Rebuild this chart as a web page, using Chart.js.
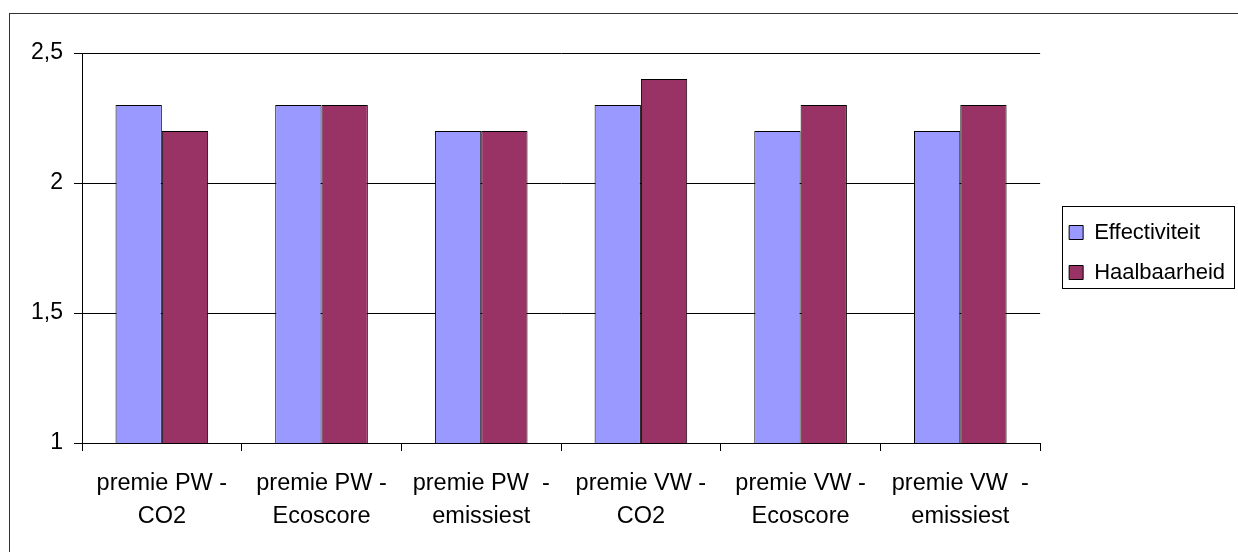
<!DOCTYPE html>
<html>
<head>
<meta charset="utf-8">
<script src="https://cdn.jsdelivr.net/npm/chart.js@4/dist/chart.umd.min.js"></script>
<style>
  body { margin: 0; background: #fff; }
  canvas { display: block; }
</style>
</head>
<body>
<canvas id="chart" width="1238" height="552"></canvas>
<script>
const categories = [
    ["premie PW -", "CO2"],
    ["premie PW -", "Ecoscore"],
    ["premie PW  -", "emissiest"],
    ["premie VW -", "CO2"],
    ["premie VW -", "Ecoscore"],
    ["premie VW  -", "emissiest"]
];
const effectiviteit = [2.3, 2.3, 2.2, 2.3, 2.2, 2.2];
const haalbaarheid = [2.2, 2.3, 2.2, 2.4, 2.3, 2.3];

const FONT = "'Liberation Sans', Arial, sans-serif";

// outer frame + box around the legend
const framePlugin = {
    id: 'frame',
    afterLayout(chart) {
        chart.legend.left += 11;
        chart.legend.top -= 50;
        chart.legend.bottom -= 50;
    },
    beforeDraw(chart) {
        const ctx = chart.ctx;
        ctx.save();
        ctx.strokeStyle = '#333';
        ctx.lineWidth = 1;
        ctx.strokeRect(9.5, 13.5, 1400, 700);
        ctx.restore();
    },
    afterDraw(chart) {
        const hb = chart.legend.legendHitBoxes;
        if (!hb || !hb.length) return;
        const last = hb[hb.length - 1];
        const left = hb[0].left - 7;
        const right = Math.max(...hb.map(h => h.left + h.width)) + 9;
        const top = hb[0].top - 16;
        const bottom = last.top + last.height + 4;
        const ctx = chart.ctx;
        ctx.save();
        ctx.strokeStyle = '#000';
        ctx.lineWidth = 1;
        ctx.strokeRect(Math.round(left) + 0.5, Math.round(top) + 0.5, Math.round(right - left), Math.round(bottom - top));
        ctx.restore();
    }
};

new Chart(document.getElementById('chart'), {
    type: 'bar',
    data: {
        labels: categories,
        datasets: [{
            label: 'Effectiviteit',
            data: effectiviteit,
            backgroundColor: '#9999ff',
            borderColor: '#000',
            borderWidth: 1
        }, {
            label: 'Haalbaarheid',
            data: haalbaarheid,
            backgroundColor: '#993366',
            borderColor: '#000',
            borderWidth: 1
        }]
    },
    options: {
        responsive: false,
        animation: false,
        layout: { padding: { top: 53, right: 14, left: 0, bottom: 0 } },
        datasets: { bar: { categoryPercentage: 0.58, barPercentage: 1.0 } },
        plugins: {
            tooltip: { enabled: false },
            legend: {
                position: 'right',
                labels: {
                    boxWidth: 14,
                    boxHeight: 14,
                    padding: 18,
                    color: '#000',
                    font: { family: FONT, size: 22 }
                }
            }
        },
        scales: {
            x: {
                afterFit: (scale) => { scale.height = 109; },
                grid: {
                    offset: true,
                    drawOnChartArea: false,
                    tickLength: 8,
                    color: '#000'
                },
                border: { color: '#000' },
                ticks: {
                    color: '#000',
                    padding: 16,
                    maxRotation: 0,
                    autoSkip: false,
                    font: { family: FONT, size: 23.5, lineHeight: 1.4 }
                }
            },
            y: {
                min: 1,
                max: 2.5,
                afterFit: (scale) => { scale.width = 82; },
                grid: { color: '#000', tickLength: 8 },
                border: { color: '#000' },
                ticks: {
                    stepSize: 0.5,
                    color: '#000',
                    padding: 11,
                    font: { family: FONT, size: 23 },
                    callback: (v) => String(v).replace('.', ',')
                }
            }
        }
    },
    plugins: [framePlugin]
});
</script>
</body>
</html>
